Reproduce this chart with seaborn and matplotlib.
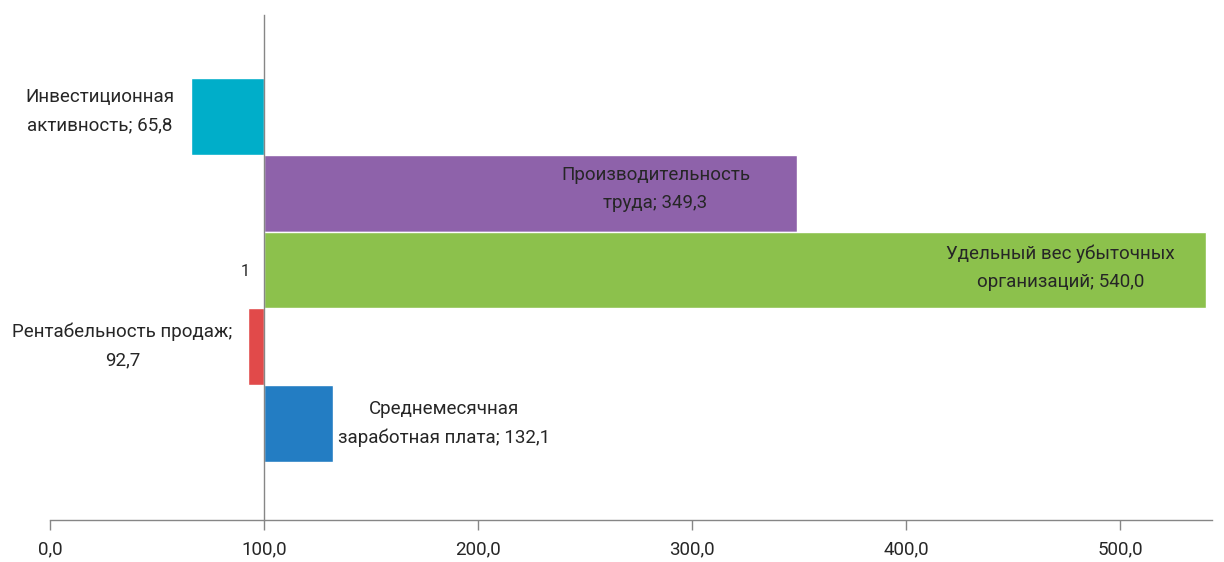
import pandas as pd
import seaborn as sns
import matplotlib.pyplot as plt
from matplotlib.ticker import FuncFormatter, MultipleLocator

# Data (base = 100)
indicators = ["Инвестиционная активность", "Производительность труда",
              "Удельный вес убыточных организаций", "Рентабельность продаж",
              "Среднемесячная заработная плата"]
values = [65.8, 349.3, 540.0, 92.7, 132.1]
colors = ["#00AEC9", "#8E62AA", "#8CC14C", "#E14A4A", "#237DC3"]
base = 100

df = pd.DataFrame({"indicator": indicators, "value": values})
df["delta"] = df["value"] - base

sns.set_style("white")
plt.rcParams["font.family"] = ["Roboto", "DejaVu Sans"]

fig = plt.figure(figsize=(12.24, 5.62), dpi=100)
ax = fig.add_axes([50 / 1224, 1 - 520 / 562, (1212 - 50) / 1224, (520 - 15) / 562])

sns.barplot(data=df, y="indicator", x="delta", hue="indicator", palette=colors,
            width=1.0, orient="h", legend=False, ax=ax, saturation=1)

ax.set_xlim(-base, 543 - base)
ax.set_ylim(5.253, -1.318)
ax.xaxis.set_major_locator(MultipleLocator(100))
ax.xaxis.set_major_formatter(FuncFormatter(lambda v, p: f"{v + base:.1f}".replace(".", ",")))
ax.set_xlabel("")
ax.set_ylabel("")

# category axis crosses at 100
ax.spines["left"].set_position(("data", 0))
for s in ["top", "right"]:
    ax.spines[s].set_visible(False)
for s in ["left", "bottom"]:
    ax.spines[s].set_color("#868686")
    ax.spines[s].set_linewidth(1.0)
ax.set_yticks([2])
ax.set_yticklabels(["1"])
ax.tick_params(axis="y", length=0, pad=10, labelsize=11.5, colors="#262626")
ax.tick_params(axis="x", bottom=True, direction="out", length=7, width=1,
               color="#868686", labelsize=13.5, labelcolor="#262626", pad=8)

# data labels: name; value, placed relative to bar end (pixel offsets)
label_names = ["Инвестиционная\nактивность; ", "Производительность\nтруда; ",
               "Удельный вес убыточных\nорганизаций; ", "Рентабельность продаж;\n",
               "Среднемесячная\nзаработная плата; "]
offsets = [(-91, 5), (-142, 4), (-145, 2), (-126, 1), (111, 0)]
for i, (name, val, (dx, dy)) in enumerate(zip(label_names, values, offsets)):
    txt = name + f"{val:.1f}".replace(".", ",")
    ax.annotate(txt, xy=(val - base, i), xytext=(dx * 0.72, dy * 0.72), textcoords="offset points",
                ha="center", va="center", fontsize=13.5, color="#262626",
                linespacing=1.75, multialignment="center")

fig.savefig("out.png", dpi=100)
